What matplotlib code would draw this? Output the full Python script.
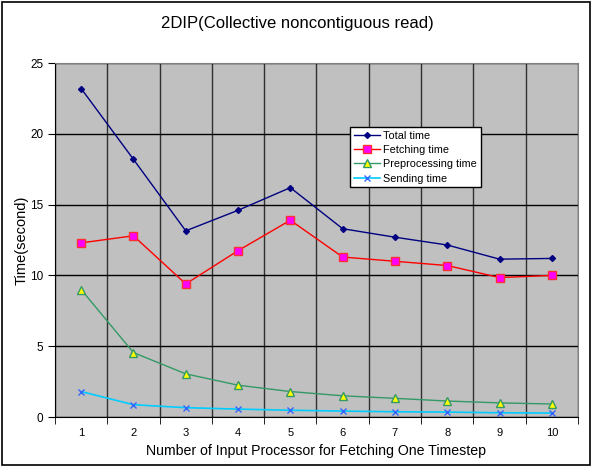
""" 2DIP collective noncontiguous read timing chart """
import matplotlib.pyplot as plt
from matplotlib.patches import Rectangle

plt.rcParams['font.family'] = ['Liberation Sans', 'DejaVu Sans']

# number of input processors
procs = [1, 2, 3, 4, 5, 6, 7, 8, 9, 10]

# timings (second)
total_time = [23.2, 18.2, 13.15, 14.6, 16.2, 13.3, 12.7, 12.15, 11.15, 11.2]
fetching_time = [12.3, 12.8, 9.4, 11.75, 13.9, 11.3, 11.0, 10.7, 9.85, 10.0]
preprocessing_time = [9.0, 4.55, 3.05, 2.25, 1.8, 1.5, 1.32, 1.13, 1.0, 0.92]
sending_time = [1.8, 0.87, 0.66, 0.56, 0.48, 0.42, 0.37, 0.35, 0.3, 0.28]

fig = plt.figure(figsize=(5.94, 4.67), dpi=100)
ax = fig.add_axes([0.0926, 0.107, 0.8804, 0.758])
ax.set_facecolor('#C0C0C0')

ax.plot(procs, total_time, color='#000080', lw=1, marker='D', ms=3,
        mfc='#000080', mec='#000080', label='Total time')
ax.plot(procs, fetching_time, color='#FF0000', lw=1, marker='s', ms=6,
        mfc='#FF00FF', mec='#FF3030', label='Fetching time')
ax.plot(procs, preprocessing_time, color='#339966', lw=1, marker='^', ms=6,
        mfc='#FFFF00', mec='#339966', label='Preprocessing time')
ax.plot(procs, sending_time, color='#00CCFF', lw=1.2, marker='x', ms=5,
        mew=1, mec='#3366FF', label='Sending time')

# category axis: ticks between categories
ax.set_xlim(0.5, 10.5)
ax.set_ylim(0, 25)
ax.set_xticks(procs)
ax.set_xticks([i + 0.5 for i in range(11)], minor=True)
ax.set_yticks([0, 5, 10, 15, 20, 25])
ax.tick_params(axis='x', which='major', length=0, pad=8, labelsize=8)
ax.tick_params(axis='x', which='minor', length=5, direction='out')
ax.tick_params(axis='y', length=5, direction='out', labelsize=8.5)

ax.grid(axis='y', which='major', color='black', lw=1)
ax.grid(axis='x', which='minor', color='#303030', lw=1)
ax.set_axisbelow(True)

for side in ['top', 'right']:
    ax.spines[side].set_color('#808080')
ax.spines['left'].set_color('black')
ax.spines['bottom'].set_color('black')

ax.set_xlabel('Number of Input Processor for Fetching One Timestep', fontsize=10.2, labelpad=4)
ax.set_ylabel('Time(second)', fontsize=10.5, labelpad=1)
fig.text(0.5, 0.95, '2DIP(Collective noncontiguous read)', ha='center', va='center', fontsize=12)

leg = ax.legend(loc='upper left', bbox_to_anchor=(0.564, 0.82), fontsize=7.8,
                fancybox=False, framealpha=1, edgecolor='black', borderpad=0.35,
                labelspacing=0.4, handlelength=2.4, handletextpad=0.3, borderaxespad=0)
leg.get_frame().set_linewidth(1)

# chart area border
fig.patches.append(Rectangle((0.004, 0.004), 0.99, 0.992, transform=fig.transFigure,
                             fill=False, edgecolor='black', lw=1.2))

plt.savefig('out.png', dpi=100)
